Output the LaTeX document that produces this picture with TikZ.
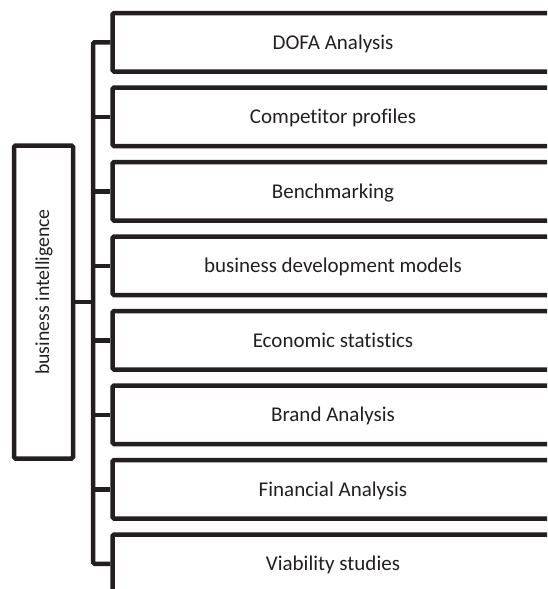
\documentclass[tikz,border=0pt]{standalone}
\usepackage{fontspec}
\setmainfont{Carlito}[Ligatures=NoCommon]
\usepackage{tikz}
\definecolor{ink}{HTML}{231F20}
\tikzset{
  item/.style={rectangle,draw=ink,line width=4.5pt,rounded corners=1.5pt,inner sep=0pt,
    minimum width=441pt,minimum height=58.5pt,text=ink,font=\fontsize{21}{25}\selectfont,
    text height=13.5pt,text depth=0pt},
  root/.style={rectangle,draw=ink,line width=4.5pt,rounded corners=1.5pt,inner sep=0pt,
    minimum width=59pt,minimum height=313pt},
  lb/.style={text=ink,font=\fontsize{19.8}{24}\selectfont,inner sep=0pt},
  br/.style={draw=ink,line width=4.5pt,rounded corners=1.5pt},
}

\begin{document}
\begin{tikzpicture}[x=1pt,y=-1pt]
\useasboundingbox (0,0) rectangle (547,589);
\clip (0,0) rectangle (547,589);
% the eight tools, stacked down the right side
\foreach \t [count=\i] in {DOFA Analysis, Competitor profiles, Benchmarking,
    business development models, Economic statistics, Brand Analysis,
    Financial Analysis, Viability studies}
  \node[item] (n\i) at (333,{42.25+74.5*(\i-1)}) {\t};
% the root, text set upright along the box
\node[root] (bi) at (43.5,302) {};
\node[lb,rotate=90,anchor=base] (bitxt) at (49,292) {business intelligence};
% trunk and branches
\coordinate (tr) at (93,0);
\draw[br] (n1.west) -- (n1.west -| tr) -- (n8.west -| tr) -- (n8.west);
\foreach \i in {2,...,7}
  \draw[br] (n\i.west -| tr) -- (n\i.west);
\draw[br] (bi.east) -- (bi.east -| tr);
\end{tikzpicture}
\end{document}
